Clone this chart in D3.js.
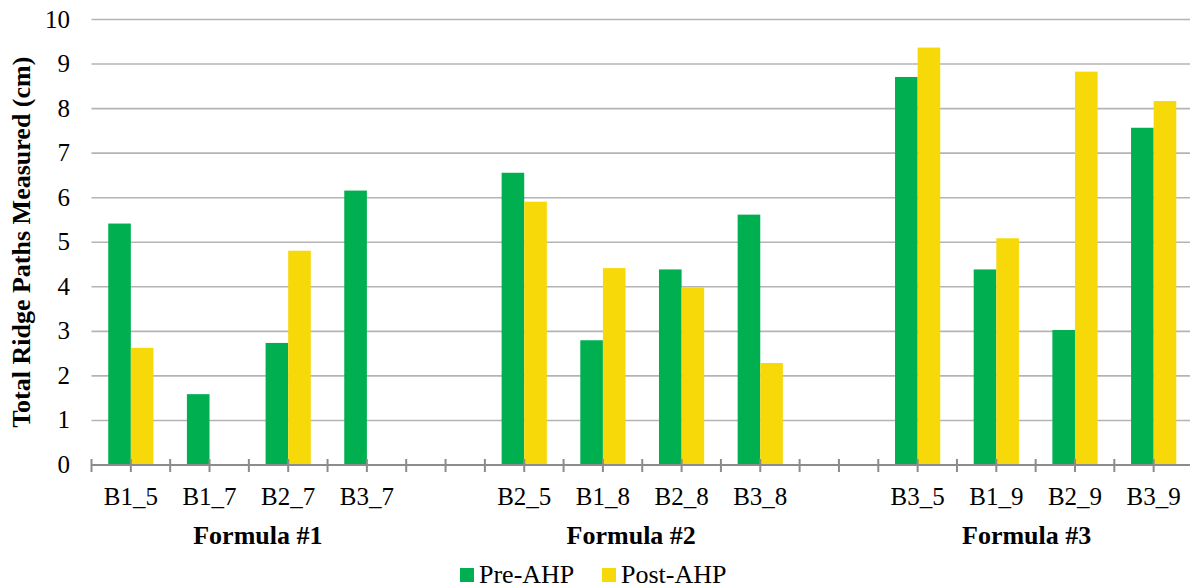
<!DOCTYPE html>
<html>
<head>
<meta charset="utf-8">
<script src="https://cdn.jsdelivr.net/npm/d3@7/dist/d3.min.js"></script>
<style>
  svg text { font-family: "Liberation Serif", Tinos, "Times New Roman", FreeSerif !important; }
</style>
</head>
<body style="margin:0">
<svg id="chart" width="1190" height="588" font-family="Liberation Serif"></svg>
<script>
// ---- data ----
const categories = ["B1_5", "B1_7", "B2_7", "B3_7", "", "B2_5", "B1_8", "B2_8", "B3_8", "", "B3_5", "B1_9", "B2_9", "B3_9"];
const groups = ["Formula #1", "Formula #2", "Formula #3"];
const groupOf = [0, 0, 0, 0, -1, 1, 1, 1, 1, -1, 2, 2, 2, 2];
const seriesNames = ["Pre-AHP", "Post-AHP"];
const preAHP  = [5.42, 1.59, 2.74, 6.16, null, 6.56, 2.80, 4.39, 5.62, null, 8.71, 4.39, 3.03, 7.57];
const postAHP = [2.63, null, 4.81, null, null, 5.91, 4.42, 3.99, 2.29, null, 9.37, 5.09, 8.83, 8.17];
const yTicks = [0, 1, 2, 3, 4, 5, 6, 7, 8, 9, 10];
const colors = ["#00B050", "#F7D90A"];

// ---- layout ----
const svg = d3.select("#chart");
const mLeft = 91.5, mRight = 1193, mTop = 19.5, mBottom = 465;

function styleText(sel, size, bold) {
  return sel.attr("font-family", "Liberation Serif")
    .style("font-family", "'Liberation Serif'")
    .attr("font-size", size)
    .attr("font-weight", bold ? "bold" : "normal")
    .attr("fill", "#000");
}

const x = d3.scaleBand().domain(d3.range(categories.length)).range([mLeft, mRight]).paddingInner(0).paddingOuter(0);
const xs = d3.scaleBand().domain(seriesNames).range([0, x.bandwidth()]).paddingInner(0).paddingOuter(0.74);
const y = d3.scaleLinear().domain([0, 10]).range([mBottom, mTop]);

// gridlines
svg.append("g").selectAll("line").data(yTicks.filter(d => d > 0)).join("line")
  .attr("x1", mLeft).attr("x2", mRight)
  .attr("y1", d => y(d)).attr("y2", d => y(d))
  .attr("stroke", "#b4b4b4").attr("stroke-width", 1.6);

// y tick labels
styleText(svg.append("g").selectAll("text").data(yTicks).join("text")
  .attr("x", 70).attr("y", d => y(d) + 8)
  .attr("text-anchor", "end"), 25, false)
  .text(d => d);

// bars
const series = [preAHP, postAHP];
series.forEach((vals, si) => {
  svg.append("g").selectAll("rect")
    .data(vals.map((v, i) => ({ v, i })).filter(d => d.v !== null))
    .join("rect")
    .attr("x", d => x(d.i) + xs(seriesNames[si]))
    .attr("width", xs.bandwidth())
    .attr("y", d => y(d.v))
    .attr("height", d => y(0) - y(d.v))
    .attr("fill", colors[si]);
});

// x axis line
svg.append("line")
  .attr("x1", mLeft).attr("x2", mRight)
  .attr("y1", y(0)).attr("y2", y(0))
  .attr("stroke", "#8c8c8c").attr("stroke-width", 2);

// x ticks: category boundaries and centers
const tickPos = [];
for (let i = 0; i <= categories.length; i++) {
  tickPos.push(mLeft + i * x.step());
  if (i < categories.length) tickPos.push(x(i) + x.bandwidth() / 2);
}
svg.append("g").selectAll("line").data(tickPos).join("line")
  .attr("x1", d => d).attr("x2", d => d)
  .attr("y1", y(0) - 6).attr("y2", y(0) + 7)
  .attr("stroke", "#8c8c8c").attr("stroke-width", 2);

// category labels
styleText(svg.append("g").selectAll("text").data(categories.map((c, i) => ({ c, i })).filter(d => d.c)).join("text")
  .attr("x", d => x(d.i) + x.bandwidth() / 2)
  .attr("y", 505)
  .attr("text-anchor", "middle"), 25, false)
  .text(d => d.c);

// group labels
const offsets = [9, -11, -9];
styleText(svg.append("g").selectAll("text").data(groups).join("text")
  .attr("x", (g, gi) => {
    const idx = groupOf.map((v, i) => v === gi ? i : -1).filter(i => i >= 0);
    const x0 = x(idx[0]), x1 = x(idx[idx.length - 1]) + x.bandwidth();
    return (x0 + x1) / 2 + offsets[gi];
  })
  .attr("y", 544)
  .attr("text-anchor", "middle"), 26, true)
  .text(d => d);

// y axis title
styleText(svg.append("text")
  .attr("transform", `translate(30, ${(mTop + mBottom) / 2}) rotate(-90)`)
  .attr("text-anchor", "middle"), 26, true)
  .text("Total Ridge Paths Measured (cm)");

// legend
const legendItems = [
  { name: seriesNames[0], color: colors[0], x: 460 },
  { name: seriesNames[1], color: colors[1], x: 602 }
];
const lg = svg.append("g");
legendItems.forEach(it => {
  lg.append("rect").attr("x", it.x).attr("y", 568).attr("width", 14).attr("height", 14).attr("fill", it.color);
  styleText(lg.append("text").attr("x", it.x + 19).attr("y", 583), 26, false).text(it.name);
});
</script>
</body>
</html>
